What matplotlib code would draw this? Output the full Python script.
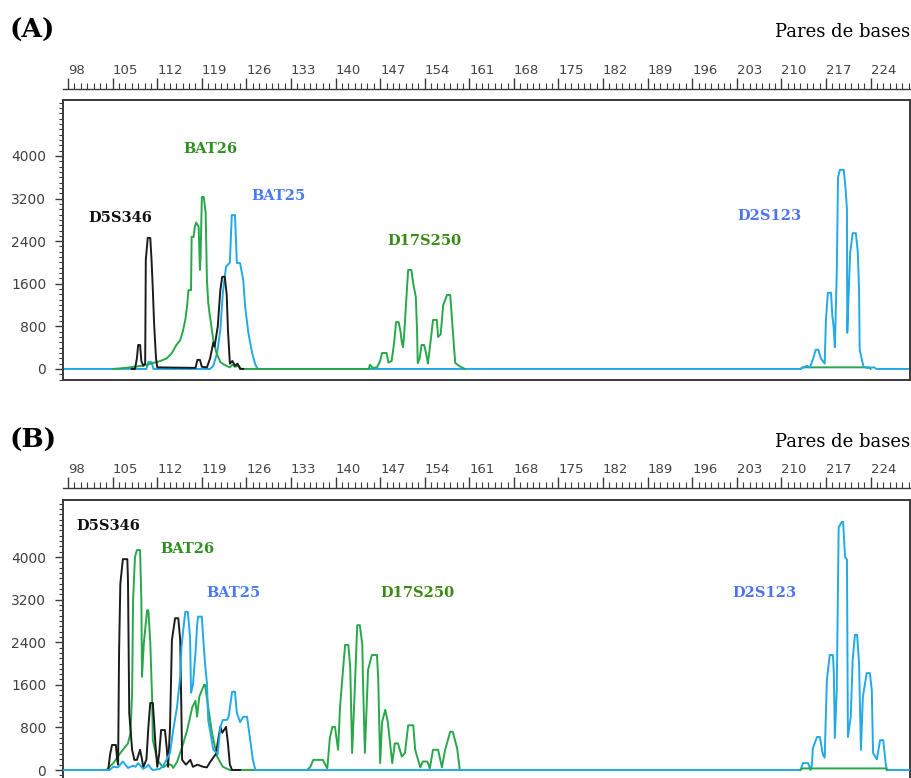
import matplotlib.pyplot as plt
from matplotlib.ticker import MultipleLocator

# ---- data: base pairs (bp) and fluorescence height (RFU) ----
ruler_ticks = list(range(98, 225, 7))
y_ticks = [0, 800, 1600, 2400, 3200, 4000]

# panel A
a_black_bp = [108.0, 108.5, 108.8, 109.0, 109.3, 109.5, 109.8, 110.1, 110.2, 110.5, 110.9, 111.1,
              111.3, 111.5, 111.8, 112.0, 118.0, 118.3, 118.7, 119.0, 119.8, 120.3, 120.8, 121.0,
              121.5, 121.9, 122.2, 122.6, 122.9, 123.1, 123.4, 123.8, 124.2, 124.6, 125.0, 125.5]
a_black_rfu = [0, 0, 200, 450, 450, 150, 60, 100, 2050, 2460, 2460, 2050,
               1500, 860, 200, 30, 20, 170, 170, 40, 30, 200, 500, 420,
               800, 1480, 1730, 1730, 1400, 730, 100, 150, 60, 100, 0, 0]

a_green_bp = [105.1, 107.0, 109.0, 110.5, 111.3, 112.5, 113.5, 114.3, 115.0, 115.6, 116.0, 116.4,
              116.7, 116.9, 117.3, 117.4, 117.7, 117.9, 118.1, 118.5, 118.7, 118.8, 119.0, 119.3,
              119.6, 119.8, 120.0, 120.2, 120.5, 120.8, 121.3, 121.9, 122.5, 123.4, 123.8, 124.2,
              124.8, 125.2, 144.5, 145.2, 145.4, 145.8, 146.5, 147.0, 147.3, 148.0, 148.3, 148.8,
              149.2, 149.5, 149.9, 150.2, 150.4, 150.6, 150.8, 151.1, 151.4, 151.9, 152.2, 152.6,
              152.8, 152.9, 153.2, 153.5, 153.9, 154.2, 154.5, 155.0, 155.3, 155.9, 156.1, 156.5,
              156.9, 157.5, 158.0, 158.3, 158.6, 158.8, 159.5, 160.3]
a_green_rfu = [0, 20, 50, 80, 110, 150, 200, 300, 450, 540, 700, 920,
               1200, 1480, 1480, 2480, 2480, 2670, 2750, 2670, 1860, 2100, 3230, 3230,
               2930, 1670, 1250, 1050, 800, 540, 300, 130, 80, 30, 80, 40,
               60, 0, 0, 0, 80, 20, 30, 150, 300, 300, 120, 150,
               500, 880, 880, 700, 500, 410, 700, 1300, 1860, 1860, 1600, 1350,
               700, 110, 200, 450, 450, 300, 100, 600, 920, 920, 600, 650,
               1200, 1390, 1390, 900, 400, 110, 50, 0]
a_green2_bp = [213.0, 213.3, 223.8, 224.0]
a_green2_rfu = [0, 30, 30, 0]

a_blue_bp = [97.2, 110.3, 110.6, 111.1, 111.4, 120.3, 120.8, 121.4, 121.9, 122.3, 122.8, 123.4,
             123.7, 124.2, 124.5, 125.0, 125.5, 125.8, 126.3, 126.9, 127.4, 127.8, 213.0, 214.0,
             214.5, 215.0, 215.4, 215.8, 216.2, 216.8, 217.0, 217.3, 217.8, 218.0, 218.2, 218.4,
             218.7, 218.9, 219.2, 219.8, 220.1, 220.3, 220.35, 220.6, 220.8, 221.2, 221.7, 222.0,
             222.2, 222.3, 222.6, 222.9, 223.5, 224.6, 224.9, 230.2]
a_blue_rfu = [0, 0, 130, 130, 0, 0, 60, 300, 730, 1430, 1920, 2000,
              2890, 2890, 1990, 1990, 1670, 1170, 680, 300, 80, 0, 0, 60,
              30, 200, 360, 360, 200, 100, 920, 1430, 1430, 1000, 800, 410,
              1800, 3600, 3740, 3740, 3360, 3000, 680, 1500, 2180, 2550, 2550, 2200,
              1500, 360, 200, 40, 20, 30, 0, 0]

# panel B
b_black_bp = [103.5, 104.3, 104.6, 104.9, 105.5, 105.7, 105.85, 106.0, 106.2, 106.6, 107.3, 107.4,
              107.6, 108.05, 108.4, 108.8, 109.3, 109.6, 109.8, 110.3, 110.6, 110.9, 111.3, 111.5,
              111.7, 112.0, 112.3, 112.6, 113.2, 113.5, 113.7, 114.0, 114.3, 114.8, 115.3, 115.6,
              115.8, 115.9, 116.5, 117.2, 117.6, 118.3, 119.2, 119.8, 120.3, 121.2, 121.9, 122.2,
              122.8, 123.1, 123.4, 123.75, 125.0]
b_black_rfu = [0, 0, 300, 470, 470, 200, 100, 2200, 3500, 3960, 3960, 3570,
               1070, 380, 190, 190, 380, 200, 50, 200, 800, 1260, 1260, 900,
               500, 60, 300, 750, 750, 400, 60, 800, 2440, 2850, 2850, 2440,
               1000, 190, 100, 190, 60, 100, 60, 50, 150, 300, 810, 700,
               810, 500, 100, 0, 0]

b_green_bp = [104.0, 105.1, 106.2, 107.4, 107.8, 108.05, 108.2, 108.5, 108.8, 109.3, 109.5, 109.6,
              109.9, 110.4, 110.6, 110.9, 111.2, 111.3, 112.0, 112.9, 113.5, 114.2, 114.5, 115.1,
              115.9, 116.7, 117.5, 118.0, 118.25, 118.6, 119.35, 119.5, 120.0, 120.6, 121.4, 122.3,
              123.4, 135.5, 136.0, 136.5, 138.0, 138.7, 139.1, 139.5, 139.9, 140.4, 140.7, 141.2,
              141.5, 142.0, 142.3, 142.6, 142.9, 143.4, 143.8, 144.2, 144.3, 144.6, 145.1, 145.7,
              146.5, 146.7, 147.0, 147.3, 147.8, 148.2, 148.9, 149.3, 149.8, 150.4, 150.9, 151.4,
              152.2, 152.5, 153.3, 153.7, 154.4, 154.8, 155.3, 156.1, 156.7, 157.2, 158.0, 158.4,
              159.1, 159.5]
b_green_rfu = [0, 130, 320, 500, 700, 1450, 3190, 4000, 4130, 4130, 3200, 1750,
               2400, 3000, 3000, 2400, 1310, 560, 190, 50, 100, 100, 40, 150,
               430, 750, 1180, 1300, 1000, 1380, 1600, 1600, 1180, 690, 250, 60,
               0, 0, 50, 190, 190, 30, 600, 810, 810, 380, 1180, 1930,
               2350, 2350, 1930, 320, 1180, 2720, 2720, 2350, 1700, 320, 1880, 2160,
               2160, 1700, 130, 900, 1130, 900, 130, 500, 500, 250, 320, 840,
               840, 380, 50, 160, 160, 30, 380, 380, 50, 380, 720, 720,
               400, 0]
b_green2_bp = [213.0, 213.3, 226.4, 226.6]
b_green2_rfu = [0, 30, 30, 0]

b_blue_bp = [97.2, 104.5, 105.1, 105.85, 106.3, 106.6, 107.0, 107.4, 108.2, 108.6, 109.0, 109.5,
             109.8, 110.3, 110.6, 111.0, 111.3, 112.4, 112.9, 113.5, 114.0, 114.5, 115.1, 115.6,
             115.8, 116.05, 116.4, 116.8, 117.15, 117.3, 117.6, 118.0, 118.25, 118.4, 119.0, 119.2,
             119.5, 119.8, 120.0, 120.8, 121.5, 121.9, 122.3, 122.96, 123.2, 123.5, 123.75, 124.2,
             124.5, 125.0, 125.5, 126.1, 126.6, 127.0, 127.4, 213.0, 213.4, 214.2, 214.6, 214.8,
             214.95, 215.6, 216.05, 216.5, 216.8, 217.15, 217.6, 218.1, 218.25, 218.4, 218.7, 219.0,
             219.5, 219.7, 220.0, 220.3, 220.45, 220.9, 221.2, 221.55, 221.9, 222.2, 222.5, 222.8,
             223.4, 223.9, 224.2, 224.4, 225.0, 225.5, 226.0, 226.4, 226.6, 230.2]
b_blue_rfu = [0, 0, 60, 50, 120, 160, 100, 40, 80, 60, 130, 60,
              20, 60, 100, 30, 0, 20, 80, 200, 320, 750, 1180, 1750,
              2300, 2600, 2970, 2970, 2500, 1450, 1600, 2200, 2700, 2880, 2880, 2500,
              2000, 1630, 940, 380, 300, 810, 940, 940, 1000, 1250, 1470, 1470,
              1070, 900, 1000, 1000, 560, 200, 0, 0, 130, 130, 0, 100,
              410, 620, 620, 300, 230, 1690, 2160, 2160, 1800, 600, 1500, 4560,
              4660, 4660, 4000, 3950, 620, 1000, 2070, 2540, 2540, 2000, 380, 1370,
              1820, 1820, 1500, 320, 200, 560, 560, 100, 0, 0]

# marker labels: (text, bp, rfu, colour)
a_labels = [("BAT26", 120.3, 4130, "#2f8f1f"), ("D5S346", 106.2, 2835, "#111111"),
            ("BAT25", 131.1, 3250, "#4a7bf5"), ("D17S250", 153.9, 2400, "#3b8a16"),
            ("D2S123", 208.2, 2870, "#4f74f2")]
b_labels = [("D5S346", 104.3, 4580, "#111111"), ("BAT26", 116.7, 4150, "#2f8f1f"),
            ("BAT25", 123.9, 3320, "#4a7bf5"), ("D17S250", 152.8, 3320, "#3b8a16"),
            ("D2S123", 207.3, 3320, "#4f74f2")]

BLACK = "#1c1c1c"
GREEN = "#28a84a"
BLUE = "#22a9e8"
FRAME = "#3a3a3a"

fig = plt.figure(figsize=(9.12, 7.78), dpi=100)

ax_a = fig.add_axes([0.0691, 0.5116, 0.9287, 0.3599])
ax_b = fig.add_axes([0.0691, -0.0013, 0.9287, 0.3586])


def style_panel(ax, ylim, ruler_loc):
    ax.set_xlim(97.2, 230.2)
    ax.set_ylim(*ylim)
    ax.set_xticks([])
    ax.set_yticks(y_ticks)
    ax.yaxis.set_minor_locator(MultipleLocator(100))
    ax.tick_params(axis="y", which="major", length=6, width=1, colors=FRAME,
                   labelcolor="#404040", labelsize=10, pad=6)
    ax.tick_params(axis="y", which="minor", length=3, width=0.8, colors=FRAME)
    for s in ax.spines.values():
        s.set_color(FRAME)
        s.set_linewidth(1.4)
    sec = ax.secondary_xaxis(ruler_loc)
    sec.set_xticks(ruler_ticks)
    sec.xaxis.set_minor_locator(MultipleLocator(1))
    sec.tick_params(which="major", length=8, width=1, colors=FRAME,
                    labelcolor="#444444", labelsize=9.5, pad=1)
    sec.tick_params(which="minor", length=4, width=0.8, colors=FRAME)
    sec.spines["top"].set_color(FRAME)
    sec.spines["top"].set_linewidth(1.0)
    for lab in sec.get_xticklabels():
        lab.set_horizontalalignment("left")


# panel A
style_panel(ax_a, (-207, 5052), 1.039)
ax_a.plot(a_blue_bp, a_blue_rfu, color=BLUE, lw=1.4, zorder=2)
ax_a.plot(a_green_bp, a_green_rfu, color=GREEN, lw=1.4, zorder=3)
ax_a.plot(a_green2_bp, a_green2_rfu, color=GREEN, lw=1.4, zorder=1.5)
ax_a.plot(a_black_bp, a_black_rfu, color=BLACK, lw=1.4, zorder=4)
for txt, x, y, c in a_labels:
    ax_a.text(x, y, txt, color=c, fontsize=10.5, fontweight="bold", family="DejaVu Serif",
              ha="center", va="center", zorder=5)

# panel B
style_panel(ax_b, (-169, 5070), 1.043)
ax_b.plot(b_green_bp, b_green_rfu, color=GREEN, lw=1.4, zorder=2)
ax_b.plot(b_black_bp, b_black_rfu, color=BLACK, lw=1.4, zorder=3)
ax_b.plot(b_blue_bp, b_blue_rfu, color=BLUE, lw=1.4, zorder=4)
ax_b.plot(b_green2_bp, b_green2_rfu, color=GREEN, lw=1.4, zorder=4.5)
for txt, x, y, c in b_labels:
    ax_b.text(x, y, txt, color=c, fontsize=10.5, fontweight="bold", family="DejaVu Serif",
              ha="center", va="center", zorder=5)

# panel letters and axis caption
for ytop, letter in [(30, "(A)"), (440, "(B)")]:
    fig.text(10 / 912, 1 - ytop / 778, letter, fontsize=19, fontweight="bold",
             family="DejaVu Serif", ha="left", va="center")
    fig.text(910 / 912, 1 - (ytop + 2) / 778, "Pares de bases", fontsize=13,
             family="DejaVu Serif", ha="right", va="center")

fig.savefig("out.png", dpi=100)
